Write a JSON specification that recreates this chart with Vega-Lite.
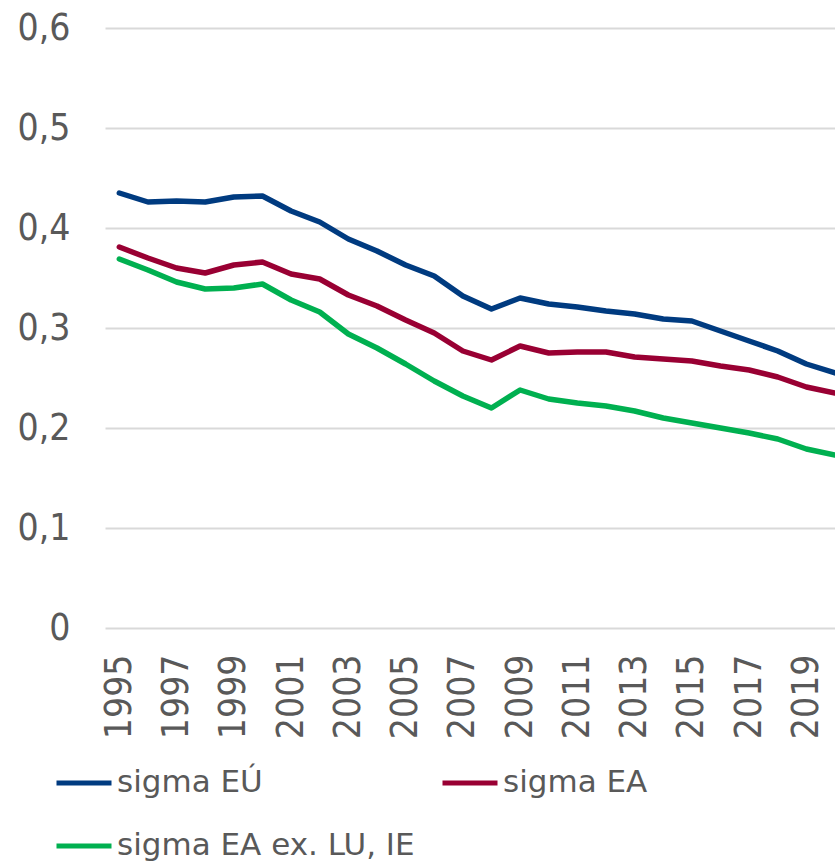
{
  "$schema": "https://vega.github.io/schema/vega-lite/v6.json",
  "width": 730,
  "height": 600,
  "autosize": {"type": "none"},
  "padding": {"left": 105, "top": 28, "right": 0, "bottom": 233},
  "background": "white",
  "config": {"view": {"stroke": null}},
  "data": {"values": [
    {"year": 1995, "series": "sigma EÚ", "value": 0.435},
    {"year": 1996, "series": "sigma EÚ", "value": 0.426},
    {"year": 1997, "series": "sigma EÚ", "value": 0.427},
    {"year": 1998, "series": "sigma EÚ", "value": 0.426},
    {"year": 1999, "series": "sigma EÚ", "value": 0.431},
    {"year": 2000, "series": "sigma EÚ", "value": 0.432},
    {"year": 2001, "series": "sigma EÚ", "value": 0.417},
    {"year": 2002, "series": "sigma EÚ", "value": 0.406},
    {"year": 2003, "series": "sigma EÚ", "value": 0.389},
    {"year": 2004, "series": "sigma EÚ", "value": 0.377},
    {"year": 2005, "series": "sigma EÚ", "value": 0.363},
    {"year": 2006, "series": "sigma EÚ", "value": 0.352},
    {"year": 2007, "series": "sigma EÚ", "value": 0.332},
    {"year": 2008, "series": "sigma EÚ", "value": 0.319},
    {"year": 2009, "series": "sigma EÚ", "value": 0.330},
    {"year": 2010, "series": "sigma EÚ", "value": 0.324},
    {"year": 2011, "series": "sigma EÚ", "value": 0.321},
    {"year": 2012, "series": "sigma EÚ", "value": 0.317},
    {"year": 2013, "series": "sigma EÚ", "value": 0.314},
    {"year": 2014, "series": "sigma EÚ", "value": 0.309},
    {"year": 2015, "series": "sigma EÚ", "value": 0.307},
    {"year": 2016, "series": "sigma EÚ", "value": 0.297},
    {"year": 2017, "series": "sigma EÚ", "value": 0.287},
    {"year": 2018, "series": "sigma EÚ", "value": 0.277},
    {"year": 2019, "series": "sigma EÚ", "value": 0.264},
    {"year": 2020, "series": "sigma EÚ", "value": 0.255},
    {"year": 1995, "series": "sigma EA", "value": 0.381},
    {"year": 1996, "series": "sigma EA", "value": 0.370},
    {"year": 1997, "series": "sigma EA", "value": 0.360},
    {"year": 1998, "series": "sigma EA", "value": 0.355},
    {"year": 1999, "series": "sigma EA", "value": 0.363},
    {"year": 2000, "series": "sigma EA", "value": 0.366},
    {"year": 2001, "series": "sigma EA", "value": 0.354},
    {"year": 2002, "series": "sigma EA", "value": 0.349},
    {"year": 2003, "series": "sigma EA", "value": 0.333},
    {"year": 2004, "series": "sigma EA", "value": 0.322},
    {"year": 2005, "series": "sigma EA", "value": 0.308},
    {"year": 2006, "series": "sigma EA", "value": 0.295},
    {"year": 2007, "series": "sigma EA", "value": 0.277},
    {"year": 2008, "series": "sigma EA", "value": 0.268},
    {"year": 2009, "series": "sigma EA", "value": 0.282},
    {"year": 2010, "series": "sigma EA", "value": 0.275},
    {"year": 2011, "series": "sigma EA", "value": 0.276},
    {"year": 2012, "series": "sigma EA", "value": 0.276},
    {"year": 2013, "series": "sigma EA", "value": 0.271},
    {"year": 2014, "series": "sigma EA", "value": 0.269},
    {"year": 2015, "series": "sigma EA", "value": 0.267},
    {"year": 2016, "series": "sigma EA", "value": 0.262},
    {"year": 2017, "series": "sigma EA", "value": 0.258},
    {"year": 2018, "series": "sigma EA", "value": 0.251},
    {"year": 2019, "series": "sigma EA", "value": 0.241},
    {"year": 2020, "series": "sigma EA", "value": 0.235},
    {"year": 1995, "series": "sigma EA ex. LU, IE", "value": 0.369},
    {"year": 1996, "series": "sigma EA ex. LU, IE", "value": 0.358},
    {"year": 1997, "series": "sigma EA ex. LU, IE", "value": 0.346},
    {"year": 1998, "series": "sigma EA ex. LU, IE", "value": 0.339},
    {"year": 1999, "series": "sigma EA ex. LU, IE", "value": 0.340},
    {"year": 2000, "series": "sigma EA ex. LU, IE", "value": 0.344},
    {"year": 2001, "series": "sigma EA ex. LU, IE", "value": 0.328},
    {"year": 2002, "series": "sigma EA ex. LU, IE", "value": 0.316},
    {"year": 2003, "series": "sigma EA ex. LU, IE", "value": 0.294},
    {"year": 2004, "series": "sigma EA ex. LU, IE", "value": 0.280},
    {"year": 2005, "series": "sigma EA ex. LU, IE", "value": 0.264},
    {"year": 2006, "series": "sigma EA ex. LU, IE", "value": 0.247},
    {"year": 2007, "series": "sigma EA ex. LU, IE", "value": 0.232},
    {"year": 2008, "series": "sigma EA ex. LU, IE", "value": 0.220},
    {"year": 2009, "series": "sigma EA ex. LU, IE", "value": 0.238},
    {"year": 2010, "series": "sigma EA ex. LU, IE", "value": 0.229},
    {"year": 2011, "series": "sigma EA ex. LU, IE", "value": 0.225},
    {"year": 2012, "series": "sigma EA ex. LU, IE", "value": 0.222},
    {"year": 2013, "series": "sigma EA ex. LU, IE", "value": 0.217},
    {"year": 2014, "series": "sigma EA ex. LU, IE", "value": 0.210},
    {"year": 2015, "series": "sigma EA ex. LU, IE", "value": 0.205},
    {"year": 2016, "series": "sigma EA ex. LU, IE", "value": 0.200},
    {"year": 2017, "series": "sigma EA ex. LU, IE", "value": 0.195},
    {"year": 2018, "series": "sigma EA ex. LU, IE", "value": 0.189},
    {"year": 2019, "series": "sigma EA ex. LU, IE", "value": 0.179},
    {"year": 2020, "series": "sigma EA ex. LU, IE", "value": 0.173}
  ]},
  "mark": {"type": "line", "strokeWidth": 5.5, "strokeJoin": "round", "strokeCap": "round", "clip": false},
  "encoding": {
    "x": {
      "field": "year",
      "type": "quantitative",
      "scale": {"domain": [1994.5, 2020], "nice": false, "zero": false},
      "axis": {
        "title": null,
        "values": [1995, 1997, 1999, 2001, 2003, 2005, 2007, 2009, 2011, 2013, 2015, 2017, 2019],
        "format": "d",
        "labelAngle": -90,
        "labelAlign": "right",
        "labelBaseline": "middle",
        "labelPadding": 26,
        "labelFont": "DejaVu Sans Condensed, Open Sans, DejaVu Sans",
        "labelFontSize": 37,
        "labelColor": "#595959",
        "labelOverlap": false,
        "labelFlush": false,
        "grid": false,
        "ticks": false,
        "domain": false
      }
    },
    "y": {
      "field": "value",
      "type": "quantitative",
      "scale": {"domain": [0, 0.6], "nice": false},
      "axis": {
        "title": null,
        "values": [0, 0.1, 0.2, 0.3, 0.4, 0.5, 0.6],
        "labelExpr": "datum.value == 0 ? '0' : replace(format(datum.value, '.1f'), '.', ',')",
        "labelPadding": 35,
        "labelFont": "DejaVu Sans Condensed, Open Sans, DejaVu Sans",
        "labelFontSize": 37,
        "labelColor": "#595959",
        "labelFlush": false,
        "labelOverlap": false,
        "grid": true,
        "gridColor": "#d9d9d9",
        "gridWidth": 2,
        "ticks": false,
        "domain": false
      }
    },
    "color": {
      "field": "series",
      "type": "nominal",
      "scale": {
        "domain": ["sigma EÚ", "sigma EA", "sigma EA ex. LU, IE"],
        "range": ["#003B80", "#990033", "#00B050"]
      },
      "legend": {
        "title": null,
        "orient": "none",
        "legendX": -51,
        "legendY": 725,
        "direction": "horizontal",
        "columns": 2,
        "columnPadding": 17,
        "rowPadding": 18,
        "symbolType": "stroke",
        "symbolSize": 3025,
        "symbolStrokeWidth": 5,
        "labelOffset": 3,
        "labelFont": "DejaVu Sans",
        "labelFontSize": 31,
        "labelColor": "#595959",
        "labelLimit": 500,
        "padding": 0
      }
    }
  }
}
